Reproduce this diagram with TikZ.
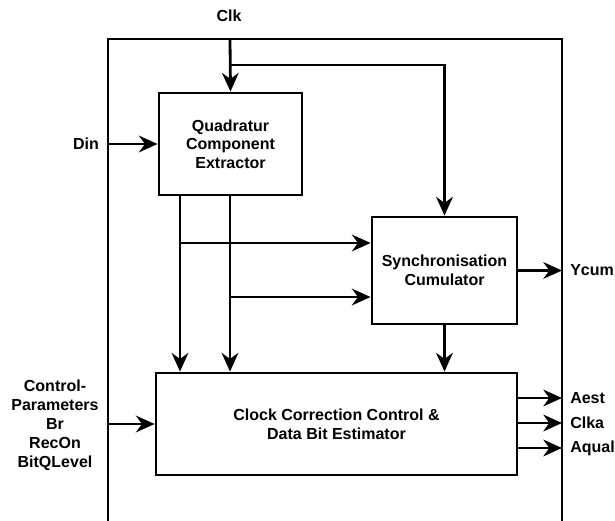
\documentclass[tikz,border=0pt]{standalone}
\usepackage{fontspec}
\setmainfont{Liberation Sans}
\usetikzlibrary{arrows.meta}
\begin{document}
\begin{tikzpicture}[x=0.75pt,y=-0.75pt,
  block/.style={draw, line width=2.1pt, fill=white, align=center,
    font=\bfseries\fontsize{12}{14}\selectfont, inner sep=0pt},
  lbl/.style={font=\bfseries\fontsize{12}{14}\selectfont, align=center, inner sep=0pt},
  wire/.style={line width=2.1pt},
  sig/.style={wire, -{Stealth[length=14pt,width=12.5pt,inset=4.5pt]}},
  frame/.style={line width=1.4pt}]
\useasboundingbox (0,0) rectangle (615,521);

% enclosing module frame (open at the bottom)
\coordinate (fbl) at (108,521);
\coordinate (ftl) at (108,39);
\coordinate (ftr) at (562,39);
\coordinate (fbr) at (562,521);
\draw[frame] (fbl) -- (ftl) -- (ftr) -- (fbr);

% functional blocks
\node[block, minimum width=107.25pt, minimum height=76.5pt] (qce) at (230.5,144)
  {Quadratur\\Component\\Extractor};
\node[block, minimum width=108.75pt, minimum height=80.25pt] (sync) at (444.5,270.5)
  {Synchronisation\\Cumulator};
\node[block, minimum width=270.75pt, minimum height=76.5pt] (ccc) at (336.5,424)
  {Clock Correction Control \&\\Data Bit Estimator};

% external signal labels
\node[lbl] (clk) at (229,16) {Clk};
\node[lbl] (din) at (86,144) {Din};
\node[lbl, font=\bfseries\fontsize{12}{14.25}\selectfont] (ctrl) at (55,425)
  {Control-\\Parameters\\Br\\RecOn\\BitQLevel};
\node[lbl, anchor=west] (ycum) at (570,270) {Ycum};
\node[lbl, anchor=west] (aest) at (570,398) {Aest};
\node[lbl, anchor=west] (clka) at (570,423) {Clka};
\node[lbl, anchor=west] (aqual) at (570,448) {Aqual};

% helper columns and rows
\coordinate (clkin) at (230,39);
\coordinate (clkbr) at (230,65);
\coordinate (colA) at (180,0);
\coordinate (colB) at (230,0);
\coordinate (rowA) at (0,243);
\coordinate (rowB) at (0,297);

% clock distribution
\draw[sig] (clkin) -- (qce.north);
\draw[sig] (clkbr) -| (sync.north);

% data input
\draw[sig] (ftl |- qce.west) -- (qce.west);

% quadrature component outputs
\draw[sig] (qce.south -| colA) -- (ccc.north -| colA);
\draw[sig] (qce.south -| colB) -- (ccc.north -| colB);
\draw[sig] (colA |- rowA) -- (sync.west |- rowA);
\draw[sig] (colB |- rowB) -- (sync.west |- rowB);

% synchronisation cumulator outputs
\draw[sig] (sync.east) -- (ftr |- sync.east);
\draw[sig] (sync.south) -- (ccc.north -| sync.south);

% control parameters input
\draw[sig] (ftl |- ccc.west) -- (ccc.west);

% estimator outputs
\draw[sig] (ccc.east |- aest) -- (ftr |- aest);
\draw[sig] (ccc.east |- clka) -- (ftr |- clka);
\draw[sig] (ccc.east |- aqual) -- (ftr |- aqual);
\end{tikzpicture}
\end{document}
